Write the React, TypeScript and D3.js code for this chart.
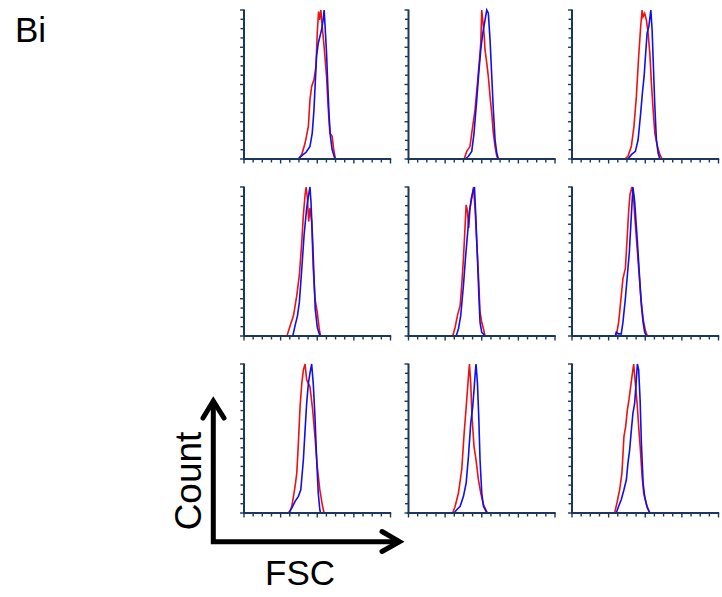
import React from "react";
import * as d3 from "d3";

type Pt = [number, number];

// FSC channel (0-1024) vs count (% of max)
const red1: Pt[] = [[380,0],[404,3],[427,10.7],[450,21.9],[461,39.7],[473,48.7],[489,53.1],[503,62.1],[512,84.4],[521,98.9],[528,93.3],[537,100],[549,86.6],[560,75.4],[577,55.4],[588,35.3],[600,17.4],[616,15.2],[627,6.3],[639,0]];
const blue1: Pt[] = [[380,0],[404,2.2],[434,4.5],[461,8.5],[477,17.4],[489,33],[498,51],[507,68.8],[519,77.7],[530,82],[544,87.7],[553,93.3],[560,100],[567,88.8],[577,71],[586,48.7],[595,28.6],[604,15.2],[616,6.3],[630,1.8],[636,0]];
const red2: Pt[] = [[389,0],[407,5.1],[430,8.5],[442,17.4],[465,33],[482,50.9],[496,66.5],[505,77.7],[512,100],[519,93.3],[528,84.4],[535,73.2],[547,64.3],[558,55.4],[570,42],[582,30.4],[593,17.4],[605,8.5],[617,1.8],[628,0]];
const blue2: Pt[] = [[396,0],[419,1.8],[442,5.1],[458,17.4],[477,39.7],[491,57.6],[505,73.2],[519,84.4],[535,93.3],[547,100],[558,97.8],[570,79.9],[582,55.4],[593,33],[605,12.9],[617,4],[628,0]];
const red3: Pt[] = [[368,0],[391,1.8],[415,8.5],[433,21.9],[450,42],[466,68.8],[480,88.8],[490,100],[497,95.5],[508,97.8],[520,93.3],[532,84.4],[544,71],[555,50.9],[567,33],[579,17.4],[597,8.5],[614,2.9],[630,0]];
const blue3: Pt[] = [[391,0],[415,2.9],[443,5.1],[462,12.9],[480,30.8],[492,44.2],[504,55.4],[515,71],[525,84.4],[537,88.8],[551,100],[560,86.6],[569,62.1],[579,35.3],[590,12.9],[602,4],[614,0]];
const red4: Pt[] = [[300,0],[323,7],[346,13.7],[369,27.3],[387,40.8],[404,63.3],[415,81.3],[427,94.8],[434,100],[443,92.6],[452,76.8],[461,85.8],[473,76.8],[484,45.3],[496,25],[512,16],[526,4.7],[535,0]];
const blue4: Pt[] = [[341,0],[357,7],[374,13.7],[387,22.7],[404,45.3],[420,67.8],[438,85.8],[452,94.8],[461,100],[468,90.3],[480,63.3],[489,40.8],[498,18.2],[512,5.9],[526,1.4],[535,0]];
const red5: Pt[] = [[309,0],[326,5.9],[342,13.7],[361,20.5],[372,34],[384,52],[396,74.5],[403,88],[412,83.6],[421,72.3],[430,85.8],[442,92.6],[454,100],[465,85.8],[477,63.3],[489,40.8],[500,16],[512,9.2],[524,4.7],[535,0]];
const blue5: Pt[] = [[333,0],[349,4.7],[365,13.7],[384,34],[398,52],[412,67.8],[426,83.6],[440,92.6],[454,98.2],[461,100],[470,81.3],[482,52],[491,29.5],[500,9.2],[512,2.5],[524,1.4],[535,0]];
const red6: Pt[] = [[309,0],[326,9.2],[340,22.7],[356,38.5],[373,45.3],[384,63.3],[396,83.6],[405,94.8],[419,100],[429,94.8],[438,81.3],[452,63.3],[466,45.3],[480,27.3],[497,11.5],[513,3.6],[527,0]];
const blue6: Pt[] = [[302,0],[309,2.5],[326,1.4],[344,1.4],[356,9.2],[373,25],[387,40.8],[401,56.5],[415,81.3],[426,100],[438,90.3],[457,63.3],[473,38.5],[485,20.5],[497,9.2],[508,2.5],[520,0]];
const red7: Pt[] = [[318,0],[334,4.5],[346,11.2],[357,17.9],[369,26.8],[380,46.9],[392,71.4],[404,87],[415,96],[427,100],[438,89.3],[450,87],[461,84.8],[480,69.2],[496,51.3],[512,31.3],[530,15.6],[549,4.5],[560,0]];
const blue7: Pt[] = [[311,0],[334,3.3],[357,7.8],[380,11.2],[397,15.6],[415,35.7],[427,55.8],[438,73.7],[450,87],[461,93.8],[473,100],[484,87],[496,64.7],[507,37.9],[519,13.4],[530,2.2],[535,0]];
const red8: Pt[] = [[309,0],[326,4.5],[349,13.4],[372,29],[389,53.6],[398,64.7],[407,75.9],[419,91.5],[426,100],[435,87],[444,64.7],[458,44.6],[472,35.7],[489,22.3],[505,13.4],[524,5.6],[542,1.8],[551,0]];
const blue8: Pt[] = [[319,0],[337,2.2],[361,4.5],[384,11.2],[403,20.1],[419,37.9],[435,60.3],[449,71.4],[458,82.6],[468,96],[472,100],[482,87],[491,64.7],[500,35.7],[512,13.4],[524,4.5],[542,1.1],[551,0]];
const red9: Pt[] = [[298,0],[314,6.7],[333,15.6],[349,26.8],[363,51.3],[375,58],[387,69.2],[398,75.9],[410,84.8],[419,91.5],[431,100],[443,87],[455,73.7],[466,58],[478,42.4],[490,24.6],[501,13.4],[520,5.6],[544,0]];
const blue9: Pt[] = [[309,0],[326,4.5],[344,8.9],[363,15.6],[380,22.3],[391,33.5],[403,42.4],[415,55.8],[426,67],[438,73.7],[448,87],[457,100],[466,96],[476,75.9],[485,46.9],[497,20.1],[508,11.2],[527,3.3],[544,0]];

const redSeries = [red1, red2, red3, red4, red5, red6, red7, red8, red9];
const blueSeries = [blue1, blue2, blue3, blue4, blue5, blue6, blue7, blue8, blue9];

const xTickValues = d3.range(0, 1025, 64);
const yTickValues = d3.range(0, 100.01, 6.25);

const colX = [244, 408.5, 572];
const rowY = [10, 187, 364];
const PW = 146.5;
const PH = 149;
const AXIS = "#1b365f";

function Panel({ i }: { i: number }) {
  const x0 = colX[i % 3];
  const y0 = rowY[Math.floor(i / 3)];
  const x = d3.scaleLinear().domain([0, 1024]).range([x0, x0 + PW]);
  const y = d3.scaleLinear().domain([0, 100]).range([y0 + PH, y0]);
  const line = d3.line<Pt>().x((d) => x(d[0])).y((d) => y(d[1]));
  return (
    <g>
      <path d={line(redSeries[i]) || ""} fill="none" stroke="#ee1111" strokeWidth={1.6} />
      <path d={line(blueSeries[i]) || ""} fill="none" stroke="#1010ee" strokeWidth={1.6} />
      {yTickValues.map((t, k) => (
        <line key={"y" + k} x1={x0} x2={x0 - (k % 4 === 0 ? 4 : 3.5)} y1={y(t)} y2={y(t)} stroke={AXIS} strokeWidth={1.4} />
      ))}
      {xTickValues.map((t, k) => (
        <line key={"x" + k} x1={x(t)} x2={x(t)} y1={y0 + PH} y2={y0 + PH + (k % 4 === 0 ? 4.5 : 3.5)} stroke={AXIS} strokeWidth={1.4} />
      ))}
      <line x1={x0} x2={x0} y1={y0 - 0.5} y2={y0 + PH + 1} stroke={AXIS} strokeWidth={2} />
      <line x1={x0 - 1} x2={x0 + PW + 0.7} y1={y0 + PH} y2={y0 + PH} stroke={AXIS} strokeWidth={2} />
    </g>
  );
}

export default function App() {
  const font = "'Liberation Sans', Arial, sans-serif";
  return (
    <svg width={722} height={597} style={{ position: "absolute", left: 0, top: 0, background: "#fff" }}>
      <rect width={722} height={597} fill="#fff" />
      <text x={15} y={41.5} fontFamily={font} fontSize={35} fill="#000">Bi</text>
      {d3.range(9).map((i) => <Panel key={i} i={i} />)}
      <path d="M213.3,402 L213.3,541.7 L397,541.7" fill="none" stroke="#000" strokeWidth={5} strokeLinejoin="miter" />
      <path d="M203,418 L213.3,401 L224,418" fill="none" stroke="#000" strokeWidth={5} strokeLinejoin="miter" strokeLinecap="round" />
      <path d="M382,531.5 L399.5,541.7 L382,551.5" fill="none" stroke="#000" strokeWidth={5} strokeLinejoin="miter" strokeLinecap="round" />
      <text transform="translate(201,481) rotate(-90)" textAnchor="middle" fontFamily={font} fontSize={37} fill="#000">Count</text>
      <text x={300} y={585} textAnchor="middle" fontFamily={font} fontSize={35} fill="#000">FSC</text>
    </svg>
  );
}
